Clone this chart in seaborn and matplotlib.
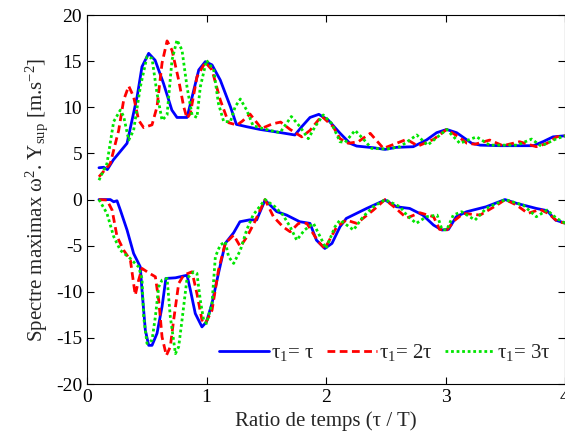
import matplotlib
matplotlib.use('Agg')
import matplotlib.pyplot as plt
import seaborn as sns

sns.set_style('ticks')
plt.rcParams['font.family'] = ['Liberation Serif', 'DejaVu Serif']
plt.rcParams['mathtext.fontset'] = 'custom'
plt.rcParams['mathtext.rm'] = 'Liberation Serif'
plt.rcParams['mathtext.it'] = 'Liberation Serif'
plt.rcParams['axes.unicode_minus'] = False

# upper envelope (max) for each tau1
bu_x = [0.10, 0.14, 0.17, 0.22, 0.335, 0.42, 0.46, 0.516, 0.57, 0.64, 0.71, 0.753, 0.837, 0.88, 0.935, 0.99,
        1.046, 1.115, 1.2, 1.25, 1.335, 1.448, 1.6, 1.74, 1.797, 1.866, 1.94, 2.02, 2.117, 2.2, 2.257, 2.396,
        2.494, 2.59, 2.73, 2.84, 2.926, 3.01, 3.093, 3.22, 3.29, 3.456, 3.735, 3.82, 3.9, 3.986, 4.0]
bu_y = [3.45, 3.5, 3.25, 4.3, 6.1, 11.2, 14.4, 15.85, 15.1, 12.6, 9.7, 8.9, 8.9, 11.15, 14.05, 14.95,
        14.6, 12.96, 10.07, 8.15, 7.9, 7.6, 7.3, 7.0, 7.9, 8.9, 9.24, 8.6, 7.2, 6.1, 5.8, 5.62,
        5.44, 5.66, 5.73, 6.45, 7.25, 7.6, 7.25, 6.1, 5.9, 5.84, 5.84, 6.3, 6.8, 6.9, 6.9]

ru_x = [0.10, 0.195, 0.265, 0.307, 0.349, 0.39, 0.432, 0.474, 0.544, 0.586, 0.628, 0.67, 0.711, 0.767, 0.809,
        0.837, 0.865, 0.92, 0.99, 1.046, 1.115, 1.185, 1.255, 1.30, 1.364, 1.46, 1.55, 1.62, 1.70, 1.797,
        1.866, 1.963, 2.06, 2.117, 2.187, 2.27, 2.37, 2.48, 2.59, 2.675, 2.77, 2.9, 3.01, 3.11, 3.18, 3.247,
        3.37, 3.48, 3.62, 3.76, 3.85, 3.93, 4.0]
ru_y = [2.47, 3.9, 7.5, 10.8, 12.3, 11.15, 8.6, 7.8, 8.1, 10.07, 14.8, 17.2, 16.2, 12.96, 10.07,
        8.8, 9.35, 13.3, 14.88, 14.05, 10.8, 8.33, 8.08, 8.5, 9.27, 7.7, 8.2, 8.4, 7.6, 6.8,
        7.5, 9.05, 7.9, 6.6, 6.1, 6.27, 7.18, 5.55, 6.1, 6.53, 5.8, 6.53, 7.6, 6.8, 6.1, 6.0,
        6.45, 5.84, 6.27, 5.73, 6.1, 6.8, 6.9]

gu_x = [0.10, 0.167, 0.223, 0.279, 0.307, 0.349, 0.39, 0.446, 0.502, 0.544, 0.586, 0.628, 0.67, 0.711, 0.753,
        0.795, 0.837, 0.879, 0.92, 0.948, 1.0, 1.06, 1.10, 1.144, 1.2, 1.24, 1.283, 1.336, 1.39, 1.50,
        1.615, 1.71, 1.782, 1.852, 1.908, 1.977, 2.047, 2.117, 2.16, 2.243, 2.31, 2.38, 2.51, 2.62, 2.76,
        2.85, 3.01, 3.12, 3.26, 3.37, 3.6, 3.72, 3.8, 3.93, 4.0]
gu_y = [2.1, 3.9, 8.45, 9.7, 9.0, 6.45, 7.5, 12.2, 15.5, 15.3, 11.5, 8.6, 9.17, 15.1, 17.3,
        16.2, 12.2, 9.17, 8.9, 12.2, 15.1, 14.05, 10.4, 8.45, 8.45, 10.07, 10.9, 9.7, 8.0, 7.6,
        7.25, 9.0, 7.9, 6.6, 7.9, 9.17, 8.26, 6.27, 6.2, 7.5, 6.6, 5.55, 5.48, 5.73, 7.0,
        5.9, 7.6, 6.1, 6.8, 5.9, 5.9, 6.56, 5.8, 6.6, 6.9]

# lower envelope (min) for each tau1
bl_x = [0.10, 0.195, 0.223, 0.251, 0.279, 0.335, 0.39, 0.446, 0.46, 0.488, 0.516, 0.544, 0.586, 0.628, 0.66,
        0.74, 0.837, 0.865, 0.906, 0.962, 1.0, 1.046, 1.1, 1.157, 1.227, 1.28, 1.36, 1.42, 1.49, 1.587,
        1.67, 1.78, 1.866, 1.92, 1.99, 2.05, 2.117, 2.17, 2.34, 2.494, 2.59, 2.70, 2.81, 2.9, 2.97,
        3.025, 3.09, 3.176, 3.34, 3.497, 3.595, 3.76, 3.85, 3.92, 4.0]
bl_y = [0.0, 0.0, -0.24, -0.13, -1.14, -3.3, -5.84, -7.3, -9.8, -14.15, -15.8, -15.8, -14.5, -11.6, -8.55,
        -8.48, -8.2, -9.8, -12.35, -13.8, -13.25, -11.25, -8.0, -4.75, -3.6, -2.4, -2.2, -2.2, -0.05, -1.3,
        -1.68, -2.4, -2.58, -4.4, -5.3, -4.75, -2.95, -2.04, -0.96, -0.05, -0.78, -0.96, -1.68, -2.77, -3.3,
        -3.23, -1.86, -1.32, -0.78, 0.0, -0.41, -0.96, -1.2, -2.22, -2.55]

rl_x = [0.10, 0.167, 0.21, 0.251, 0.307, 0.363, 0.39, 0.404, 0.432, 0.46, 0.516, 0.572, 0.6, 0.628, 0.664,
        0.697, 0.725, 0.767, 0.809, 0.879, 0.92, 0.962, 0.99, 1.046, 1.1, 1.157, 1.227, 1.283, 1.34, 1.40,
        1.49, 1.56, 1.64, 1.70, 1.77, 1.84, 1.935, 1.99, 2.09, 2.17, 2.257, 2.396, 2.494, 2.58, 2.675,
        2.786, 2.9, 2.95, 3.01, 3.08, 3.15, 3.29, 3.43, 3.5, 3.595, 3.69, 3.79, 3.86, 3.94, 4.0]
rl_y = [0.0, -0.05, -1.14, -4.0, -5.5, -6.56, -9.1, -10.35, -8.73, -7.46, -7.94, -8.37, -10.9, -14.9, -16.9,
        -15.96, -13.07, -9.1, -8.19, -7.83, -10.2, -13.07, -13.43, -12.0, -7.65, -4.75, -3.85, -5.1, -4.0, -2.5,
        0.0, -1.86, -2.95, -3.49, -2.58, -2.58, -4.57, -5.3, -2.95, -2.22, -2.58, -1.14, 0.0, -0.9, -2.0,
        -1.43, -1.86, -3.23, -3.3, -2.22, -1.5, -1.68, -0.6, 0.0, -0.6, -1.5, -1.07, -1.5, -2.4, -2.55]

gl_x = [0.10, 0.167, 0.223, 0.279, 0.363, 0.432, 0.46, 0.474, 0.502, 0.544, 0.572, 0.6, 0.628, 0.67, 0.697,
        0.74, 0.767, 0.795, 0.837, 0.893, 0.92, 0.948, 0.976, 1.0, 1.046, 1.074, 1.115, 1.157, 1.185, 1.227,
        1.283, 1.336, 1.39, 1.49, 1.573, 1.64, 1.70, 1.755, 1.82, 1.895, 1.95, 2.0, 2.075, 2.117, 2.23,
        2.31, 2.396, 2.494, 2.62, 2.675, 2.755, 2.84, 2.93, 2.97, 3.01, 3.065, 3.135, 3.247, 3.34, 3.5,
        3.65, 3.76, 3.85, 3.93, 4.0]
gl_y = [0.0, -1.5, -4.0, -5.5, -6.4, -7.3, -8.55, -12.7, -15.6, -15.24, -12.7, -9.46, -8.73, -8.55, -12.7,
        -16.7, -15.96, -13.07, -8.55, -7.83, -8.0, -10.9, -13.07, -13.43, -11.25, -6.2, -4.93, -4.57, -6.2, -6.92,
        -5.5, -3.3, -1.68, 0.0, -0.78, -1.68, -2.95, -4.4, -3.3, -2.58, -4.0, -5.3, -2.95, -2.22, -3.3,
        -1.86, -0.78, 0.0, -0.78, -1.68, -2.58, -1.86, -1.68, -3.23, -3.3, -1.68, -1.32, -2.22, -0.96, 0.0,
        -0.6, -1.86, -1.14, -2.04, -2.55]

labels = [r'$\tau_1$= $\tau$', r'$\tau_1$= 2$\tau$', r'$\tau_1$= 3$\tau$']
colors = ['#0000ff', '#ff0000', '#00e600']
styles = ['-', (0, (2.8, 1.6)), (0, (1, 1))]

fig = plt.figure(figsize=(5.65, 4.43), dpi=100)
ax = fig.add_axes([0.154, 0.133, 0.846, 0.833])

curves = [(bu_x, bu_y, bl_x, bl_y), (ru_x, ru_y, rl_x, rl_y), (gu_x, gu_y, gl_x, gl_y)]
for (ux, uy, lx, ly), lab, col, ls in zip(curves, labels, colors, styles):
    sns.lineplot(x=ux, y=uy, color=col, linestyle=ls, linewidth=2, sort=False, ax=ax, label=lab)
    sns.lineplot(x=lx, y=ly, color=col, linestyle=ls, linewidth=2, sort=False, ax=ax)

ax.set_xlim(0, 4)
ax.set_ylim(-20, 20)
ax.set_xticks([0, 1, 2, 3, 4])
ax.set_yticks([-20, -15, -10, -5, 0, 5, 10, 15, 20])
ax.tick_params(direction='in', top=True, right=True, length=5, width=0.8, labelsize=14, colors='black')
for s in ax.spines.values():
    s.set_visible(True)
    s.set_linewidth(0.8)
    s.set_color('black')

ax.set_xlabel('Ratio de temps (τ / T)', fontsize=15)
ax.set_ylabel(r'Spectre maximax ω$^2$. Y$_{sup}$ [m.s$^{-2}$]', fontsize=15)

ax.legend(loc='lower right', bbox_to_anchor=(1.01, 0.005), ncol=3, frameon=False, fontsize=15,
          handlelength=2.4, handletextpad=0.1, columnspacing=0.6)

fig.savefig('out.png', dpi=100)
